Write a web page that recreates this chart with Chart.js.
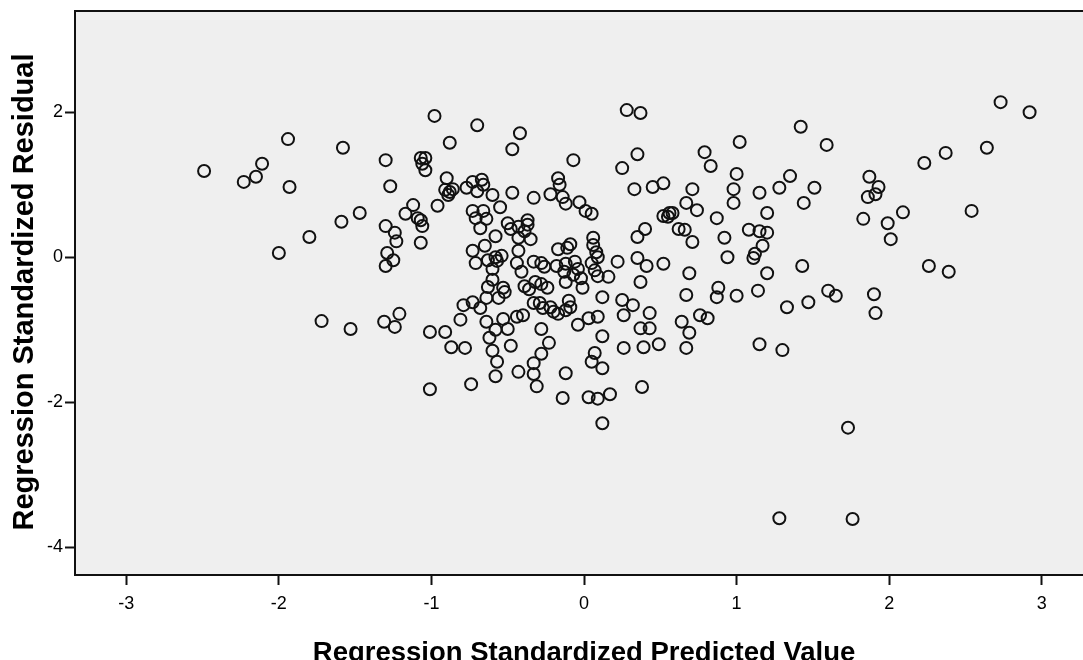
<!DOCTYPE html>
<html>
<head>
<meta charset="utf-8">
<script src="https://cdn.jsdelivr.net/npm/chart.js@4.4.0/dist/chart.umd.min.js"></script>
<style>
html,body{margin:0;padding:0;background:#fff;overflow:hidden;}
#wrap{width:1083px;height:660px;position:relative;overflow:hidden;}
</style>
</head>
<body>
<div id="wrap"><canvas id="c" width="1083" height="660"></canvas></div>
<script>
const xTitle = 'Regression Standardized Predicted Value';
const yTitle = 'Regression Standardized Residual';
const xTickValues = [-3, -2, -1, 0, 1, 2, 3];
const yTickValues = [-4, -2, 0, 2];

const predicted = [
 -2.49,-2.23,-2.15,-2.11,-1.94,-1.93,-1.58,-1.47,-1.59,-1.80,
 -2.00,-1.72,-1.53,-1.30,-1.07,-1.04,-1.06,-1.04,-1.27,-0.98,
 -0.70,-0.88,-0.47,-0.42,-0.90,-0.91,-0.88,-0.86,-0.89,-0.77,
 -0.73,-0.67,-0.66,-0.70,-0.60,-0.47,-0.55,-1.12,-1.17,-1.09,
 -1.06,-0.96,-1.30,-1.24,-1.23,-1.07,-1.29,-1.25,-1.30,-0.73,
 -0.71,-0.66,-0.64,-0.68,-0.58,-0.50,-0.48,-0.43,-0.37,-0.37,
 -0.39,-0.43,-0.35,-0.65,-0.73,-0.71,-0.63,-0.58,-0.54,-0.57,
 -0.43,-0.44,-0.41,-0.60,-0.79,-0.73,-0.68,-0.64,-0.63,-0.60,
 -0.56,-0.53,-0.52,-0.81,-0.64,-0.58,-0.53,-0.50,-0.62,-0.60,
 -0.48,-0.57,-0.58,-0.44,-0.43,-1.31,-1.24,-1.21,-1.01,-0.91,
 -0.87,-0.78,-1.01,-0.74,-0.33,-0.28,-0.23,-0.33,-0.31,-0.28,
 -0.39,-0.36,-0.32,-0.28,-0.24,-0.40,-0.33,-0.29,-0.27,-0.22,
 -0.20,-0.17,-0.10,-0.09,-0.12,-0.26,-0.18,-0.13,-0.07,-0.12,
 -0.04,-0.02,-0.01,-0.33,-0.28,-0.12,-0.06,-0.17,-0.11,-0.09,
 -0.17,-0.16,-0.22,-0.14,-0.12,-0.33,-0.07,-0.03, 0.01, 0.05,
  0.25, 0.33, 0.45, 0.52, 0.35, 0.28, 0.37, 0.06, 0.06, 0.08,
  0.09, 0.05, 0.07, 0.09, 0.16, 0.22, 0.35, 0.41, 0.52, 0.37,
  0.12, 0.25, 0.32, 0.26, 0.43, 0.37, 0.43, 0.39, 0.49,-0.04,
  0.03, 0.09, 0.12, 0.07, 0.05, 0.12, 0.26,-0.12,-0.14, 0.03,
  0.09, 0.17, 0.12, 0.38, 0.40, 0.35, 0.52, 0.67, 0.69, 0.56,
  0.58, 0.55, 0.62, 0.66, 0.71, 0.87, 0.71, 0.67, 0.74, 0.79,
  0.83, 0.88, 0.87, 0.76, 0.81, 0.64, 0.69, 0.67, 1.02, 1.00,
  0.98, 0.98, 0.92, 0.94, 1.08, 1.15, 1.20, 1.15, 1.20, 1.17,
  1.12, 1.11, 1.20, 1.28, 1.35, 1.42, 1.44, 1.51, 1.59, 1.43,
  1.00, 1.14, 1.33, 1.47, 1.60, 1.65, 1.15, 1.30, 1.87, 1.93,
  1.86, 1.91, 1.83, 1.99, 2.01, 2.09, 2.54, 1.90, 1.91, 2.26,
  2.39, 2.23, 2.37, 2.64, 2.73, 2.92, 1.73, 1.28, 1.76,-1.07
];

const residual = [
  1.19, 1.04, 1.11, 1.29, 1.63, 0.97, 1.51, 0.61, 0.49, 0.28,
  0.06,-0.88,-0.99, 1.34, 1.37, 1.37, 1.29, 1.20, 0.98, 1.95,
  1.82, 1.58, 1.49, 1.71, 1.09, 0.93, 0.90, 0.94, 0.86, 0.96,
  1.04, 1.07, 1.00, 0.91, 0.86, 0.89, 0.69, 0.72, 0.60, 0.54,
  0.43, 0.71, 0.43, 0.34, 0.22, 0.20, 0.06,-0.04,-0.12, 0.64,
  0.54, 0.64, 0.53, 0.40, 0.29, 0.47, 0.39, 0.42, 0.51, 0.45,
  0.36, 0.27, 0.25, 0.16, 0.09,-0.08,-0.04, 0.00, 0.02,-0.05,
  0.09,-0.08,-0.20,-0.16,-0.66,-0.62,-0.70,-0.56,-0.41,-0.31,
 -0.56,-0.42,-0.48,-0.86,-0.89,-1.00,-0.85,-0.99,-1.11,-1.29,
 -1.22,-1.44,-1.64,-0.82,-1.58,-0.89,-0.96,-0.78,-1.03,-1.03,
 -1.24,-1.25,-1.82,-1.75,-1.46,-1.33,-1.18,-1.61,-1.78,-0.99,
 -0.40,-0.44,-0.34,-0.37,-0.42,-0.80,-0.63,-0.63,-0.70,-0.69,
 -0.75,-0.78,-0.60,-0.69,-0.73,-0.13,-0.12,-0.20,-0.24,-0.34,
 -0.16,-0.29,-0.42,-0.06,-0.08,-0.09,-0.06, 0.11, 0.13, 0.18,
  1.09, 1.00, 0.87, 0.83, 0.74, 0.82, 1.34, 0.76, 0.64, 0.60,
  1.23, 0.94, 0.97, 1.02, 1.42, 2.03, 1.99, 0.27, 0.17, 0.07,
  0.00,-0.08,-0.18,-0.26,-0.27,-0.06,-0.01,-0.12,-0.09,-0.34,
 -0.55,-0.59,-0.66,-0.80,-0.77,-0.98,-0.98,-1.24,-1.20,-0.93,
 -0.84,-0.82,-1.09,-1.32,-1.44,-1.53,-1.25,-1.60,-1.94,-1.93,
 -1.95,-1.89,-2.29,-1.79, 0.39, 0.28, 0.57,-0.52,-0.22, 0.61,
  0.61, 0.56, 0.39, 0.38, 0.21, 0.54, 0.94, 0.75, 0.65, 1.45,
  1.26,-0.42,-0.55,-0.80,-0.84,-0.89,-1.04,-1.25, 1.59, 1.15,
  0.94, 0.75, 0.27, 0.00, 0.38, 0.36, 0.34, 0.89, 0.61, 0.16,
  0.05,-0.01,-0.22, 0.96, 1.12, 1.80, 0.75, 0.96, 1.55,-0.12,
 -0.53,-0.46,-0.69,-0.62,-0.46,-0.53,-1.20,-1.28, 1.11, 0.97,
  0.83, 0.87, 0.53, 0.47, 0.25, 0.62, 0.64,-0.51,-0.77,-0.12,
 -0.20, 1.30, 1.44, 1.51, 2.14, 2.00,-2.35,-3.60,-3.61, 0.51
];

const FONT = '"Liberation Sans", Arial, Helvetica, sans-serif';

const points = predicted.map((x, i) => ({ x: x, y: residual[i] }));

const framePlugin = {
  id: 'frame',
  beforeDraw(chart) {
    const { ctx, chartArea: a } = chart;
    ctx.save();
    ctx.fillStyle = '#efefef';
    ctx.fillRect(a.left, a.top, chart.width - a.left, a.bottom - a.top);
    ctx.restore();
  },
  afterDraw(chart) {
    const { ctx, chartArea: a } = chart;
    ctx.save();
    ctx.strokeStyle = '#111';
    ctx.lineWidth = 2;
    ctx.beginPath();
    ctx.moveTo(a.left - 1, a.top);
    ctx.lineTo(chart.width, a.top);
    ctx.stroke();
    ctx.fillStyle = '#000';
    ctx.textAlign = 'center';
    ctx.textBaseline = 'alphabetic';
    ctx.font = 'bold 27.5px ' + FONT;
    ctx.fillText(xTitle, chart.scales.x.getPixelForValue(0), 661);
    ctx.font = 'bold 29px ' + FONT;
    ctx.translate(33, (a.top + a.bottom) / 2 - 1);
    ctx.rotate(-Math.PI / 2);
    ctx.fillText(yTitle, 0, 0);
    ctx.restore();
  }
};

new Chart(document.getElementById('c'), {
  type: 'scatter',
  data: {
    datasets: [{
      data: points,
      pointStyle: 'circle',
      pointRadius: 6,
      pointBorderWidth: 2,
      pointBorderColor: '#111',
      pointBackgroundColor: 'rgba(0,0,0,0)',
      showLine: false
    }]
  },
  options: {
    responsive: false,
    animation: false,
    events: [],
    layout: { autoPadding: false, padding: { left: 0, top: 11, right: 0, bottom: 0 } },
    plugins: { legend: { display: false }, tooltip: { enabled: false } },
    scales: {
      x: {
        type: 'linear',
        min: -3.336, max: 3.27,
        afterBuildTicks(scale) { scale.ticks = xTickValues.map(v => ({ value: v })); },
        afterFit(scale) { scale.height = 85; scale.paddingLeft = 0; scale.paddingRight = 0; },
        grid: { display: true, drawOnChartArea: false, drawTicks: true, tickLength: 10, tickWidth: 2, tickColor: '#111' },
        border: { display: true, color: '#111', width: 2 },
        ticks: { color: '#000', padding: 8, font: { family: FONT, size: 18 }, maxRotation: 0, callback: v => String(v) }
      },
      y: {
        type: 'linear',
        min: -4.382, max: 3.397,
        afterBuildTicks(scale) { scale.ticks = yTickValues.map(v => ({ value: v })); },
        afterFit(scale) { scale.width = 75; scale.paddingTop = 0; scale.paddingBottom = 0; },
        grid: { display: true, drawOnChartArea: false, drawTicks: true, tickLength: 10, tickWidth: 2, tickColor: '#111' },
        border: { display: true, color: '#111', width: 2 },
        ticks: { color: '#000', padding: 2, font: { family: FONT, size: 18 }, callback: v => String(v) }
      }
    }
  },
  plugins: [framePlugin]
});
</script>
</body>
</html>
